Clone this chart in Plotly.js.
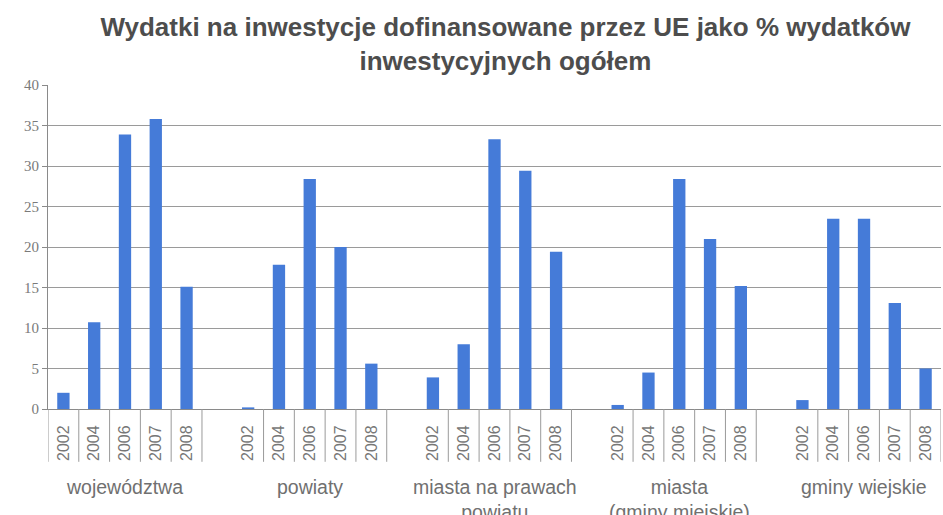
<!DOCTYPE html>
<html>
<head>
<meta charset="utf-8">
<script src="https://cdn.plot.ly/plotly-3.0.1.min.js"></script>
<style>html,body{margin:0;padding:0;background:#fff;}#chart{width:943px;height:515px;}</style>
</head>
<body>
<div id="chart"></div>
<script>
// Data
const groups = ["województwa", "powiaty", "miasta na prawach<br>powiatu", "miasta<br>(gminy miejskie)", "gminy wiejskie"];
const years = ["2002", "2004", "2006", "2007", "2008"];
const wojewodztwa = [2.0, 10.7, 33.9, 35.8, 15.1];
const powiaty = [0.2, 17.8, 28.4, 20.0, 5.6];
const miastaNPP = [3.9, 8.0, 33.3, 29.4, 19.4];
const miastaGM = [0.5, 4.5, 28.4, 21.0, 15.2];
const gminyWiejskie = [1.1, 23.5, 23.5, 13.1, 5.0];
const seriesByGroup = [wojewodztwa, powiaty, miastaNPP, miastaGM, gminyWiejskie];
const yTicks = [0, 5, 10, 15, 20, 25, 30, 35, 40];

// Build category axis: each group of years, blank gap slot between groups
const cats = [], tickText = [], xs = [], ys = [];
groups.forEach((g, gi) => {
  if (gi > 0) { cats.push("gap" + gi); tickText.push(""); }
  years.forEach((yr, yi) => {
    const key = "g" + gi + "_" + yr;
    cats.push(key); tickText.push(yr);
    xs.push(key); ys.push(seriesByGroup[gi][yi]);
  });
});

const shapes = [];
const annotations = [];
const slotsPerGroup = years.length + 1;
groups.forEach((g, gi) => {
  const start = gi * slotsPerGroup;
  const bounds = [];
  if (gi === 0) bounds.push(start - 0.5);
  for (let k = 0; k < years.length; k++) bounds.push(start + k + 0.5);
  bounds.forEach(b => shapes.push({
    type: "line", xref: "x", yref: "paper", x0: b, x1: b, y0: 0, y1: -0.163,
    line: {color: "#9a9a9a", width: 1}
  }));
  annotations.push({
    text: g, xref: "x", yref: "paper", x: start + (years.length - 1) / 2, y: -0.2,
    yanchor: "top", xanchor: "center", showarrow: false,
    font: {family: "Liberation Sans, Arial, sans-serif", size: 19.5, color: "#707070"}
  });
});

const trace = {
  type: "bar", x: xs, y: ys,
  marker: {color: "#457bd8"}, width: 0.4, hoverinfo: "skip"
};

const layout = {
  width: 943, height: 515,
  margin: {l: 48, r: 2, t: 85, b: 106},
  paper_bgcolor: "#ffffff", plot_bgcolor: "#ffffff",
  title: {
    text: "<b>Wydatki na inwestycje dofinansowane przez UE jako % wydatków<br>inwestycyjnych ogółem</b>",
    x: 0.536, xanchor: "center", y: 0.93, yanchor: "top",
    font: {family: "Liberation Sans, Arial, sans-serif", size: 26, color: "#4d4d4d"}
  },
  showlegend: false,
  bargap: 0.6,
  xaxis: {
    type: "category", categoryorder: "array", categoryarray: cats,
    tickvals: cats, ticktext: tickText, tickangle: -90,
    range: [-0.5, cats.length - 0.5],
    showgrid: false, ticks: "", showline: true, linecolor: "#8a8a8a", linewidth: 1,
    ticklabelstandoff: 9,
    tickfont: {family: "Liberation Sans, Arial, sans-serif", size: 16, color: "#777777"},
    fixedrange: true
  },
  yaxis: {
    range: [0, 40], tickvals: yTicks, ticktext: yTicks.map(String),
    showgrid: true, gridcolor: "#9a9a9a", gridwidth: 1,
    showline: true, linecolor: "#8a8a8a", ticks: "outside", ticklen: 5, tickcolor: "#8a8a8a",
    tickfont: {family: "Liberation Serif, Times New Roman, serif", size: 15, color: "#7a7a7a"},
    zeroline: false, fixedrange: true
  },
  shapes: shapes,
  annotations: annotations
};

Plotly.newPlot("chart", [trace], layout, {displayModeBar: false, staticPlot: true});
</script>
</body>
</html>
